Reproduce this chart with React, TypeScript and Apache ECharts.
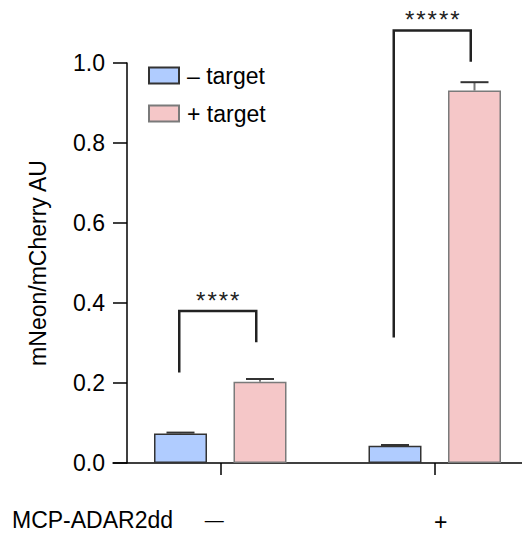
import React, { useEffect, useRef } from "react";
import * as echarts from "echarts";

const categories = ["—", "+"];
const seriesNames = ["– target", "+ target"];
const minusTarget = [0.074, 0.043];
const minusTargetErr = [0.002, 0.002];
const plusTarget = [0.203, 0.931];
const plusTargetErr = [0.007, 0.021];
const yTicks = [0, 0.2, 0.4, 0.6, 0.8, 1.0];
// [category index, left leg bottom, bracket top, right leg bottom, label]
const brackets: [number, number, number, number, string][] = [
  [0, 0.226, 0.38, 0.302, "*\u200A*\u200A*\u200A*"],
  [1, 0.314, 1.081, 1.003, "*\u200A*\u200A*\u200A*\u200A*"],
];
const xTitle = "MCP-ADAR2dd";
const yTitle = "mNeon/mCherry AU";

const FONT = "'Liberation Sans', Arial, Helvetica, sans-serif";
const BAR_W = 53;
const BAR_OFFSET = (BAR_W + BAR_W * 0.5) / 2;
const CAP = 28;

export default function App() {
  const ref = useRef<HTMLDivElement>(null);
  useEffect(() => {
    document.body.style.margin = "0";
    const chart = echarts.init(ref.current!, null, { renderer: "svg" });
    const errData = [
      ...minusTarget.map((v, i) => [i, v, minusTargetErr[i], -1]),
      ...plusTarget.map((v, i) => [i, v, plusTargetErr[i], 1]),
    ];
    const bracketData = brackets.map((b) => [b[0], b[1], b[2], b[3]]);
    chart.setOption({
      animation: false,
      textStyle: { fontFamily: FONT },
      grid: {
        left: 113,
        top: 63,
        width: 429,
        height: 400,
        containLabel: false,
        outerBoundsMode: "none",
      },
      legend: {
        data: seriesNames,
        orient: "vertical",
        left: 148,
        top: 64,
        padding: 0,
        icon: "rect",
        itemWidth: 30,
        itemHeight: 16,
        itemGap: 15,
        textStyle: { fontSize: 23, color: "#000", fontFamily: FONT, padding: [0, 0, 0, 3] },
      },
      xAxis: {
        type: "category",
        data: categories,
        axisLine: { show: true, lineStyle: { color: "#000", width: 1.5 } },
        axisTick: {
          show: true,
          alignWithLabel: true,
          length: 12,
          interval: 0,
          lineStyle: { color: "#000", width: 1.5 },
        },
        axisLabel: {
          margin: 47,
          interval: 0,
          color: "#000",
          fontSize: 23,
          fontFamily: FONT,
          formatter: (v: string) => (v === "—" ? "{m|" + v + "}" : "{p|" + v + "}"),
          rich: {
            m: { fontSize: 19, padding: [0, 12, 0, 0], fontFamily: FONT, color: "#000" },
            p: { fontSize: 23, padding: [0, 0, 0, 12], fontFamily: FONT, color: "#000" },
          },
        },
        splitLine: { show: false },
      },
      yAxis: {
        type: "value",
        min: yTicks[0],
        max: yTicks[yTicks.length - 1],
        interval: 0.2,
        offset: -14,
        name: yTitle,
        nameLocation: "middle",
        nameRotate: 90,
        nameGap: 78,
        nameTextStyle: { fontSize: 23, color: "#000", fontFamily: FONT },
        axisLine: { show: true, lineStyle: { color: "#000", width: 1.5 } },
        axisTick: { show: true, length: 14, lineStyle: { color: "#000", width: 1.5 } },
        axisLabel: {
          margin: 22,
          color: "#000",
          fontSize: 23,
          fontFamily: FONT,
          formatter: (v: number) => v.toFixed(1),
        },
        splitLine: { show: false },
      },
      series: [
        {
          name: seriesNames[0],
          type: "bar",
          data: minusTarget,
          barWidth: BAR_W,
          barGap: "50%",
          itemStyle: { color: "#b0ccff", borderColor: "#333", borderWidth: 1.5 },
        },
        {
          name: seriesNames[1],
          type: "bar",
          data: plusTarget,
          barWidth: BAR_W,
          barGap: "50%",
          itemStyle: { color: "#f5c7c8", borderColor: "#7a7a7a", borderWidth: 1.5 },
        },
        {
          type: "custom",
          clip: false,
          z: 5,
          encode: { x: 0, y: [1, 2] },
          data: errData,
          renderItem: (params: any, api: any) => {
            const ci = api.value(0);
            const v = api.value(1);
            const e = api.value(2);
            const side = api.value(3);
            const base = api.coord([ci, v]);
            const top = api.coord([ci, v + e]);
            const x = base[0] + side * BAR_OFFSET;
            return {
              type: "group",
              children: [
                { type: "line", shape: { x1: x, y1: base[1], x2: x, y2: top[1] }, style: { stroke: "#777", lineWidth: 2 } },
                { type: "line", shape: { x1: x - CAP / 2, y1: top[1], x2: x + CAP / 2, y2: top[1] }, style: { stroke: "#333", lineWidth: 2 } },
              ],
            };
          },
        },
        {
          type: "custom",
          clip: false,
          z: 6,
          encode: { x: 0, y: [1, 2, 3] },
          data: bracketData,
          renderItem: (params: any, api: any) => {
            const ci = api.value(0);
            const lb = api.coord([ci, api.value(1)]);
            const tp = api.coord([ci, api.value(2)]);
            const rb = api.coord([ci, api.value(3)]);
            const xl = lb[0] - 41;
            const xr = lb[0] + 36;
            return {
              type: "group",
              children: [
                {
                  type: "polyline",
                  shape: { points: [[xl, lb[1]], [xl, tp[1]], [xr, tp[1]], [xr, rb[1]]] },
                  style: { stroke: "#222", lineWidth: 2.5, fill: null },
                },
                {
                  type: "text",
                  x: (xl + xr) / 2,
                  y: tp[1] + 1,
                  style: {
                    text: brackets[params.dataIndex][4],
                    fontSize: 24,
                    fontFamily: FONT,
                    fill: "#222",
                    align: "center",
                    verticalAlign: "bottom",
                  },
                },
              ],
            };
          },
        },
      ],
      graphic: [
        {
          type: "text",
          x: 12,
          y: 520,
          style: {
            text: xTitle,
            fontSize: 23,
            fontFamily: FONT,
            fill: "#000",
            verticalAlign: "middle",
          },
        },
      ],
    });
    return () => chart.dispose();
  }, []);
  return <div ref={ref} style={{ width: 522, height: 533 }} />;
}
